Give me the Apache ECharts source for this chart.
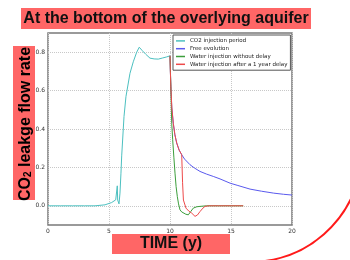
<!DOCTYPE html>
<html>
<head>
<meta charset="utf-8">
<script src="https://cdn.jsdelivr.net/npm/echarts@6/dist/echarts.min.js"></script>
<style>
  html, body { margin: 0; padding: 0; background: #fff; }
  #chart { width: 350px; height: 260px; }
</style>
</head>
<body>
<div id="chart"></div>
<script>
// CO2 injection period (years, leakage rate)
const injTime = [0, 1, 2, 3, 3.85, 4.67, 5.22, 5.55, 5.65, 5.68, 5.71, 5.82, 5.9, 5.98, 6.04, 6.23, 6.39, 6.72, 6.99, 7.27, 7.48, 7.7, 8.0, 8.36, 8.7, 9.04, 9.4, 9.7, 10.0]
const injRate = [0, 0, 0, 0, 0, 0.005, 0.017, 0.031, 0.04, 0.104, 0.03, 0.01, 0.066, 0.17, 0.26, 0.465, 0.569, 0.69, 0.75, 0.8, 0.826, 0.81, 0.79, 0.769, 0.765, 0.764, 0.77, 0.775, 0.781]

// free evolution after injection stops
const freeTime = [10.0, 10.03, 10.08, 10.15, 10.27, 10.4, 10.55, 10.75, 10.96, 11.2, 11.64, 12.0, 12.46, 13.0, 13.55, 14.1, 14.92, 15.5, 16.56, 17.5, 18.5, 19.3, 20]
const freeRate = [0.781, 0.7, 0.604, 0.51, 0.43, 0.37, 0.327, 0.29, 0.266, 0.243, 0.214, 0.197, 0.179, 0.165, 0.153, 0.14, 0.118, 0.107, 0.087, 0.076, 0.066, 0.06, 0.056]

// water injection without delay
const noDelayTime = [10.0, 10.07, 10.14, 10.22, 10.32, 10.41, 10.5, 10.6, 10.7, 10.82, 10.96, 11.09, 11.3, 11.5, 11.7, 11.91, 12.2, 12.46, 13, 14, 15, 16]
const noDelayRate = [0.781, 0.62, 0.43, 0.344, 0.25, 0.17, 0.1, 0.048, 0.01, -0.021, -0.032, -0.038, -0.044, -0.047, -0.03, -0.012, -0.005, -0.003, 0, 0, 0, 0]

// water injection after a 1 year delay
const delayTime = [10.0, 10.03, 10.08, 10.15, 10.27, 10.4, 10.55, 10.75, 10.96, 11.03, 11.1, 11.31, 11.55, 11.78, 12.05, 12.25, 12.46, 12.7, 12.87, 13.2, 14, 15, 16]
const delayRate = [0.781, 0.7, 0.604, 0.51, 0.43, 0.37, 0.327, 0.29, 0.266, 0.12, 0.03, -0.012, -0.028, -0.038, -0.055, -0.048, -0.03, -0.012, -0.003, 0, 0, 0, 0]

const seriesNames = ['CO2 injection period', 'Free evolution', 'Water injection without delay', 'Water injection after a 1 year delay']
const seriesColors = ['#4cc0c0', '#5a5aee', '#3c9e3c', '#ee4a4a']

const pairs = (xs, ys) => xs.map((x, i) => [x, ys[i]])
const seriesData = [
  pairs(injTime, injRate),
  pairs(freeTime, freeRate),
  pairs(noDelayTime, noDelayRate),
  pairs(delayTime, delayRate)
]

const chart = echarts.init(document.getElementById('chart'))
const tickFont = { fontFamily: 'DejaVu Sans', fontSize: 6, color: '#333' }

chart.setOption({
  animation: false,
  backgroundColor: '#fff',
  grid: {
    left: 48, right: 58, top: 33, bottom: 35,
    show: true, borderColor: '#7a7a7a', borderWidth: 1.5, backgroundColor: 'transparent'
  },
  legend: {
    orient: 'vertical',
    left: 173, top: 35,
    padding: [2, 3, 2, 3],
    itemGap: 0,
    itemWidth: 9,
    itemHeight: 1.5,
    icon: 'rect',
    backgroundColor: '#fff',
    borderColor: '#555',
    borderWidth: 1,
    borderRadius: 0,
    textStyle: { fontFamily: 'DejaVu Sans', fontSize: 5.5, lineHeight: 7.8, color: '#222' },
    data: seriesNames
  },
  xAxis: {
    type: 'value', min: 0, max: 20, interval: 5,
    axisLine: { show: false },
    axisTick: { show: false },
    axisLabel: { ...tickFont, margin: 3 },
    splitLine: { show: true, lineStyle: { color: '#c8c8c8', type: 'dotted', width: 1 } }
  },
  yAxis: {
    type: 'value', min: -0.1, max: 0.9, interval: 0.1,
    axisLine: { show: false },
    axisTick: { show: false },
    axisLabel: {
      ...tickFont, margin: 3,
      formatter: (v) => (Math.round(v * 10) % 2 === 0 ? v.toFixed(1) : '')
    },
    splitLine: { show: true, lineStyle: { color: ['rgba(0,0,0,0)', '#c8c8c8'], type: 'dotted', width: 1 } }
  },
  series: seriesNames.map((name, i) => ({
    name,
    type: 'line',
    data: seriesData[i],
    showSymbol: false,
    symbol: 'none',
    lineStyle: { width: 1, color: seriesColors[i] },
    itemStyle: { color: seriesColors[i] }
  })),
  graphic: [
    { type: 'rect', shape: { x: 21, y: 8, width: 290, height: 21 }, style: { fill: '#ff6666' } },
    {
      type: 'text', x: 166, y: 18.5,
      style: { text: 'At the bottom of the overlying aquifer', font: 'bold 16px "Liberation Sans", Arial, sans-serif', fill: '#111', align: 'center', verticalAlign: 'middle' }
    },
    { type: 'rect', shape: { x: 13, y: 46, width: 22, height: 154 }, style: { fill: '#ff6666' } },
    {
      type: 'text', x: 24, y: 124, rotation: Math.PI / 2,
      style: {
        text: '{a|CO}{s|2}{a| leakge flow rate}',
        align: 'center', verticalAlign: 'middle',
        rich: {
          a: { fontFamily: 'Liberation Sans', fontWeight: 'bold', fontSize: 16, lineHeight: 19, verticalAlign: 'bottom', color: '#111' },
          s: { fontFamily: 'Liberation Sans', fontWeight: 'bold', fontSize: 10, lineHeight: 10, verticalAlign: 'bottom', color: '#111' }
        }
      }
    },
    { type: 'rect', shape: { x: 112, y: 234, width: 118, height: 20 }, style: { fill: '#ff6666' } },
    {
      type: 'text', x: 171, y: 244,
      style: { text: 'TIME (y)', font: 'bold 16px "Liberation Sans", Arial, sans-serif', fill: '#111', align: 'center', verticalAlign: 'middle' }
    },
    {
      type: 'arc', shape: { cx: 250, cy: 150, r: 112, startAngle: 0.2, endAngle: 1.5, clockwise: true },
      style: { stroke: '#ff1a1a', fill: 'none', lineWidth: 2 }
    }
  ]
})
</script>
</body>
</html>
